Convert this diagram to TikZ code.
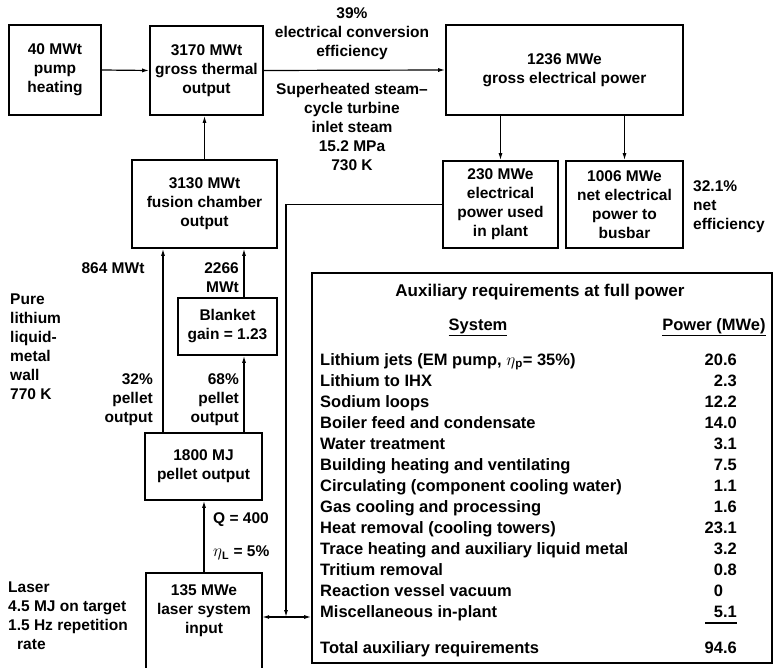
\documentclass[tikz,border=0pt]{standalone}
\usepackage{fontspec}
\setmainfont{Liberation Sans}
\usetikzlibrary{arrows.meta}
\newcommand{\etasym}{{\fontsize{19}{19}\selectfont$\eta$}}

\begin{document}
\begin{tikzpicture}[x=1pt,y=-1pt,
    font=\fontsize{15.5}{19}\selectfont\bfseries,
    blk/.style={draw,line width=1.6pt,align=center,inner sep=0pt},
    lbl/.style={align=center,inner sep=0pt},
    tab/.style={inner sep=0pt,font=\fontsize{16.5}{19}\selectfont\bfseries},
    flow/.style={line width=1.2pt,-{Latex[length=7pt,width=4pt]}},
    wire/.style={line width=1.2pt}]
    \useasboundingbox (0,0) rectangle (775,668);
    % plant boxes
    \node[blk,minimum width=92,minimum height=90] (pump) at (55,70) {40 MWt\\pump\\heating};
    \node[blk,minimum width=113,minimum height=89] (thermal) at (206.5,70.5) {3170 MWt\\gross thermal\\output};
    \node[blk,minimum width=237,minimum height=90] (gross) at (564.5,70) {1236 MWe\\gross electrical power};
    \node[blk,minimum width=115,minimum height=87] (used) at (500.5,204.5) {230 MWe\\electrical\\power used\\in plant};
    \node[blk,minimum width=117,minimum height=87] (net) at (624.5,204.5) {1006 MWe\\net electrical\\power to\\busbar};
    \node[blk,minimum width=145,minimum height=88] (fusion) at (204.5,204) {3130 MWt\\fusion chamber\\output};
    \node[blk,minimum width=99,minimum height=57] (blanket) at (227.5,326.5) {Blanket\\gain = 1.23};
    \node[blk,minimum width=117,minimum height=67] (pellet) at (203.5,466.5) {1800 MJ\\pellet output};
    \node[lbl,minimum width=116,minimum height=76] (laser) at (204,611) {135 MWe\\laser system\\input};
    \draw[line width=1.6pt] (laser.south west |- 0,672) |- (laser.north east) -- (laser.north east |- 0,672);

    % flows
    \draw[flow] (pump.east) -- (thermal.west);
    \draw[flow] (thermal.east) -- (gross.west);
    \draw[flow] (fusion.north) -- (fusion.north |- thermal.south);
    \draw[flow] (used.north |- gross.south) -- (used.north);
    \draw[flow] (net.north |- gross.south) -- (net.north);
    \draw[flow] ([xshift=-40.5pt]pellet.north) -- ([xshift=-40.5pt]pellet.north |- fusion.south);
    \draw[flow] ([xshift=40.5pt]pellet.north) -- ([xshift=40.5pt]pellet.north |- blanket.south);
    \draw[flow] ([xshift=40.5pt]pellet.north |- blanket.north) -- ([xshift=40.5pt]pellet.north |- fusion.south);
    \draw[flow] (laser.north) -- (laser.north |- pellet.south);

    % auxiliary power loop
    \coordinate (jn) at (286,617);
    \draw[flow] (used.west) -| (jn);
    \draw[flow] (jn) -- (laser.east |- jn);

    % flow labels
    \node[lbl] (conv) at (352,34) {39\%\\electrical conversion\\efficiency};
    \node[lbl] (steam) at (352,127) {Superheated steam--\\cycle turbine\\inlet steam\\15.2 MPa\\730 K};
    \node[lbl,align=left,anchor=west] (neteff) at (693,207) {32.1\%\\net\\efficiency};
    \node[lbl] (wallout) at (113,268) {864 MWt};
    \node[lbl,align=right,anchor=east] (blkout) at (239,277.5) {2266\\MWt};
    \node[lbl,align=left,anchor=west] (wall) at (10,347) {Pure\\lithium\\liquid-\\metal\\wall\\770 K};
    \node[lbl,align=right,anchor=east] (split32) at (153,400) {32\%\\pellet\\output};
    \node[lbl,align=right,anchor=east] (split68) at (239,400) {68\%\\pellet\\output};
    \node[lbl,anchor=west] (gain) at (213,520) {Q = 400};
    \node[lbl,anchor=west] (etal) at (213,553) {\etasym\textsubscript{L} = 5\%};
    \node[lbl,align=left,anchor=west] (laserdata) at (8,616) {Laser\\4.5 MJ on target\\1.5 Hz repetition\\\hspace*{9pt}rate};

    % auxiliary requirements table
    \node[draw,line width=1.6pt,minimum width=460,minimum height=390,inner sep=0pt] (aux) at (542,468) {};
    \draw[flow] (jn) -- (aux.west |- jn);
    \node[tab,font=\fontsize{17}{19}\selectfont\bfseries] (auxtitle) at (540,292) {Auxiliary requirements at full power};
    \node[tab,anchor=base] (syshead) at (478,330) {\underline{System}};
    \node[tab,anchor=base] (pwrhead) at (714,330) {\underline{Power (MWe)}};
    \foreach \sys/\pw [count=\i from 0] in {
        {Lithium jets (EM pump, \etasym\textsubscript{p}= 35\%)}/20.6,
        Lithium to IHX/2.3,
        Sodium loops/12.2,
        Boiler feed and condensate/14.0,
        Water treatment/3.1,
        Building heating and ventilating/7.5,
        {Circulating (component cooling water)}/1.1,
        Gas cooling and processing/1.6,
        {Heat removal (cooling towers)}/23.1,
        Trace heating and auxiliary liquid metal/3.2,
        Tritium removal/0.8,
        Reaction vessel vacuum/0\phantom{.0},
        Miscellaneous in-plant/5.1}
    {
        \node[tab,anchor=base west] (sys\i) at (320,365+21*\i) {\sys};
        \node[tab,anchor=base east] (pw\i) at (737,365+21*\i) {\pw};
    }
    \draw[wire] (705,623) -- (737,623);
    \node[tab,anchor=base west] (totlabel) at (320,653) {Total auxiliary requirements};
    \node[tab,anchor=base east] (totval) at (737,653) {94.6};
\end{tikzpicture}
\end{document}
